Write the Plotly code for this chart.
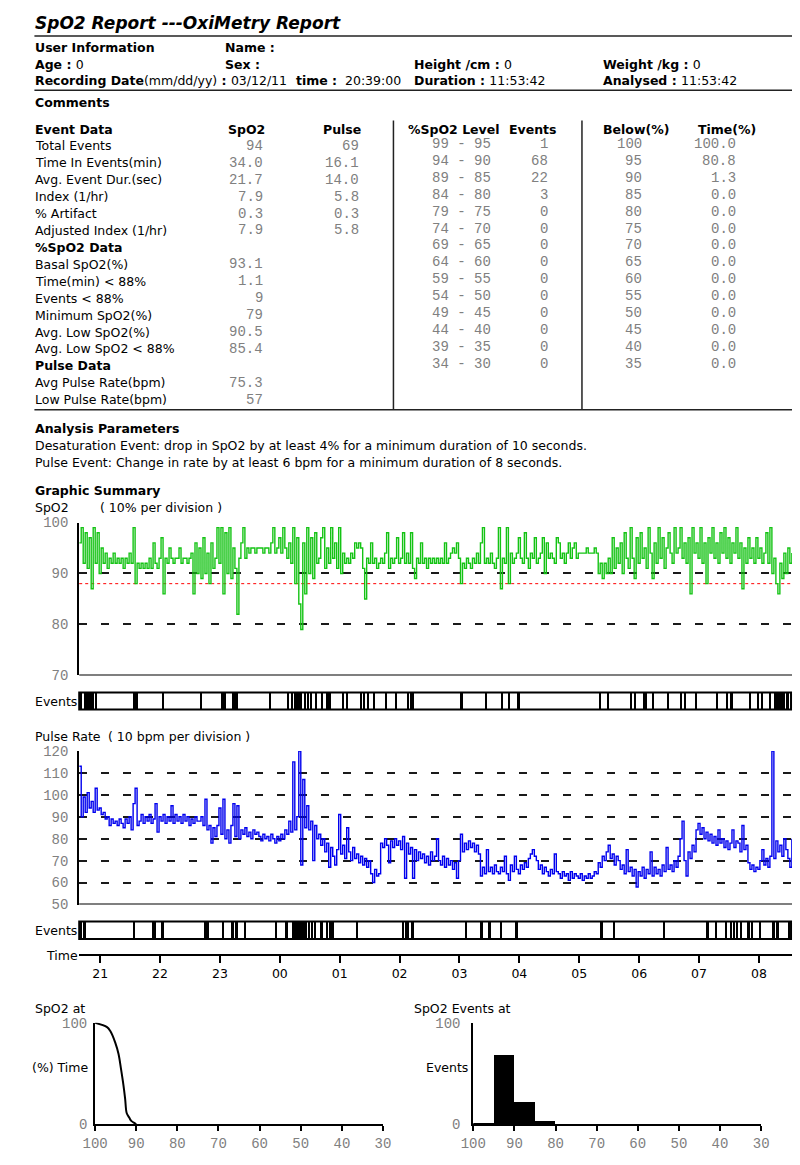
import pandas as pd
import plotly.graph_objects as go

W, H = 800, 1165
SANS = "DejaVu Sans"
MONO = "Liberation Mono"
GRAY = "#808080"
START = pd.Timestamp("2011-03-12 20:39:00")
PX_PER_HOUR = 61.5
AXIS_LEFT = 68

# ---- report header ----
title = "SpO2 Report ---OxiMetry Report"
rec_date = "03/12/11"
rec_time = "20:39:00"
duration = "11:53:42"
analysed = "11:53:42"

# ---- event data table ----
event_labels = ["Total Events", "Time In Events(min)", "Avg. Event Dur.(sec)",
                "Index (1/hr)", "% Artifact", "Adjusted Index (1/hr)"]
event_spo2 = ["94", "34.0", "21.7", "7.9", "0.3", "7.9"]
event_pulse = ["69", "16.1", "14.0", "5.8", "0.3", "5.8"]
spo2_labels = ["Basal SpO2(%)", "Time(min) < 88%", "Events < 88%", "Minimum SpO2(%)",
               "Avg. Low SpO2(%)", "Avg. Low SpO2 < 88%"]
spo2_stats = ["93.1", "1.1", "9", "79", "90.5", "85.4"]
pulse_labels = ["Avg Pulse Rate(bpm)", "Low Pulse Rate(bpm)"]
pulse_stats = ["75.3", "57"]

level_hi = [99, 94, 89, 84, 79, 74, 69, 64, 59, 54, 49, 44, 39, 34]
level_lo = [95, 90, 85, 80, 75, 70, 65, 60, 55, 50, 45, 40, 35, 30]
level_events = [1, 68, 22, 3, 0, 0, 0, 0, 0, 0, 0, 0, 0, 0]
below_level = [100, 95, 90, 85, 80, 75, 70, 65, 60, 55, 50, 45, 40, 35]
below_time = ["100.0", "80.8", "1.3", "0.0", "0.0", "0.0", "0.0", "0.0", "0.0", "0.0",
              "0.0", "0.0", "0.0", "0.0"]

# ---- overnight traces, one reading every 2 minutes from 20:39 (one row per hour) ----
spo2 = [
    96, 99, 92, 98, 91, 97, 87, 99, 92, 98, 90, 95, 92, 94, 91, 93, 92, 94, 92, 93, 92, 93, 91, 93, 92, 94, 92, 99, 88, 92,
    91, 92, 91, 92, 91, 93, 91, 96, 92, 91, 93, 97, 86, 93, 92, 95, 93, 92, 93, 93, 95, 92, 93, 93, 92, 93, 94, 86, 96, 90,
    95, 89, 97, 90, 94, 88, 96, 91, 93, 99, 92, 99, 86, 98, 90, 99, 89, 95, 91, 82, 93, 96, 99, 93, 95, 94, 95, 95, 94, 95,
    95, 95, 94, 95, 95, 94, 96, 99, 94, 95, 97, 94, 99, 95, 93, 96, 92, 99, 88, 97, 84, 79, 96, 86, 99, 90, 97, 89, 98, 92,
    93, 97, 99, 91, 95, 92, 99, 93, 96, 91, 99, 90, 94, 92, 93, 92, 94, 93, 96, 95, 96, 95, 91, 85, 93, 92, 96, 92, 93, 91,
    92, 93, 92, 94, 98, 91, 93, 92, 93, 97, 92, 93, 98, 92, 94, 92, 98, 91, 89, 93, 92, 96, 92, 93, 91, 93, 92, 93, 92, 93,
    92, 93, 92, 96, 92, 93, 94, 95, 94, 96, 93, 88, 92, 91, 93, 92, 91, 93, 92, 94, 92, 96, 99, 92, 93, 92, 94, 92, 91, 93,
    99, 87, 93, 92, 99, 88, 94, 92, 93, 94, 97, 93, 92, 98, 93, 91, 94, 93, 97, 92, 93, 94, 97, 90, 96, 93, 94, 93, 92, 97,
    96, 93, 94, 92, 94, 96, 93, 95, 96, 93, 94, 94, 94, 94, 95, 94, 94, 94, 95, 94, 90, 92, 89, 92, 90, 93, 90, 97, 91, 95,
    92, 96, 90, 98, 93, 91, 99, 93, 89, 97, 92, 98, 93, 95, 91, 99, 94, 89, 96, 92, 99, 93, 97, 91, 95, 98, 94, 92, 99, 94,
    95, 99, 93, 96, 92, 97, 86, 99, 94, 96, 93, 99, 92, 96, 88, 97, 94, 99, 93, 96, 92, 98, 94, 99, 93, 97, 92, 96, 94, 99,
    93, 96, 87, 95, 92, 97, 93, 95, 92, 97, 93, 95, 92, 94, 98, 92, 99, 90, 93, 88, 86, 92, 89, 94, 90, 95, 92, 94,
]
pulse = [
    113, 90, 99, 92, 101, 94, 97, 92, 103, 93, 94, 91, 92, 89, 90, 86, 89, 87, 88, 86, 89, 87, 85, 89, 87, 90, 84, 96, 103, 86,
    88, 91, 87, 90, 88, 91, 87, 89, 96, 83, 90, 88, 91, 87, 90, 88, 95, 87, 91, 88, 90, 87, 91, 88, 90, 86, 89, 87, 90, 88,
    88, 90, 86, 98, 84, 86, 78, 85, 81, 86, 94, 82, 98, 80, 84, 78, 86, 96, 81, 95, 80, 84, 82, 85, 81, 83, 80, 84, 82, 83,
    81, 79, 82, 80, 81, 79, 82, 80, 78, 81, 79, 82, 80, 84, 82, 88, 83, 115, 84, 90, 120, 68, 107, 85, 95, 84, 88, 70, 86, 80,
    82, 77, 80, 74, 78, 67, 76, 72, 68, 75, 91, 73, 77, 71, 85, 74, 70, 76, 71, 73, 69, 72, 68, 71, 67, 70, 64, 60, 66, 63,
    64, 78, 76, 80, 77, 69, 79, 76, 80, 77, 79, 75, 81, 62, 78, 73, 76, 62, 75, 70, 74, 71, 73, 69, 72, 68, 74, 70, 72, 80,
    70, 68, 72, 67, 71, 68, 70, 66, 69, 62, 70, 82, 74, 78, 75, 79, 76, 78, 74, 77, 73, 63, 67, 64, 75, 65, 67, 64, 68, 65,
    64, 67, 65, 72, 64, 61, 68, 65, 72, 66, 64, 68, 66, 69, 67, 71, 73, 75, 72, 70, 66, 68, 64, 67, 65, 63, 66, 64, 73, 65,
    64, 62, 65, 63, 64, 61, 65, 62, 64, 63, 62, 64, 61, 63, 62, 64, 62, 63, 65, 64, 69, 67, 72, 70, 74, 77, 71, 73, 68, 72,
    70, 66, 68, 64, 75, 65, 67, 63, 66, 58, 65, 63, 67, 62, 66, 64, 74, 63, 67, 64, 66, 63, 68, 65, 76, 66, 68, 65, 70, 67,
    72, 80, 88, 70, 63, 74, 71, 77, 74, 84, 87, 82, 85, 80, 83, 79, 82, 78, 81, 77, 84, 78, 80, 76, 79, 75, 78, 84, 76, 79,
    78, 74, 86, 75, 77, 69, 66, 68, 65, 67, 66, 70, 75, 68, 71, 67, 72, 120, 71, 79, 74, 77, 72, 80, 75, 71, 67, 80,
]

# event markers: start / end in minutes after 20:39
spo2_ev_start = [1.3, 5.2, 17.0, 54.0, 83.3, 121.6, 142.4, 153.2, 190.6, 208.5, 212.7, 215.3, 225.7,
                 229.0, 232.2, 236.8, 242.6, 247.5, 263.7, 268.0, 281.6, 284.9, 288.8, 294.6, 307.0,
                 317.4, 328.8, 332.0, 382.4, 406.5, 422.5, 429.6, 439.3, 520.7, 528.8, 552.2, 556.4,
                 564.6, 574.3, 590.0, 603.0, 606.2, 617.3, 638.7, 648.5, 652.5, 671.2, 680.0, 683.5,
                 691.4, 696.3, 709.3]
spo2_ev_end = [3.2, 15.5, 18.2, 59.5, 84.6, 122.9, 147.6, 159.7, 192.2, 210.7, 214.0, 223.7, 227.0,
               230.5, 233.5, 238.3, 244.6, 252.4, 265.4, 269.3, 283.6, 286.5, 290.0, 295.9, 308.3,
               318.7, 330.4, 335.3, 384.3, 409.0, 424.7, 431.6, 441.7, 523.0, 531.4, 554.1, 557.4,
               569.5, 575.9, 591.5, 604.5, 607.8, 619.2, 640.7, 649.8, 655.6, 673.5, 681.5, 685.0,
               693.0, 707.6, 711.0]
pulse_ev_start = [1.3, 4.2, 54.6, 73.5, 82.6, 124.9, 128.1, 143.4, 152.2, 155.8, 165.2, 196.4, 206.8,
                  213.3, 229.6, 232.9, 236.1, 241.0, 247.5, 250.7, 278.3, 323.9, 327.1, 333.0, 386.3,
                  402.0, 410.0, 422.1, 437.0, 522.3, 534.6, 585.0, 628.6, 637.0, 647.5, 652.4, 655.6,
                  658.9, 662.1, 669.3, 673.5, 681.6, 694.6, 698.5, 710.9]
pulse_ev_end = [2.6, 6.8, 56.6, 76.8, 85.2, 127.5, 130.0, 145.4, 154.8, 159.0, 167.8, 198.7, 209.4,
                228.0, 231.2, 234.5, 237.7, 244.2, 249.1, 255.6, 280.0, 325.5, 331.0, 335.3, 389.0,
                404.6, 412.4, 424.1, 439.7, 524.6, 536.9, 587.3, 631.2, 639.3, 649.1, 654.0, 657.2,
                660.5, 664.7, 671.9, 675.1, 683.2, 697.3, 701.2, 712.5]

# cumulative time below each SpO2 level (curve)
cum_level = [100, 97.1, 96.3, 95.1, 94.3, 93.7, 93.1, 92.7, 92.3, 91.7, 91.2, 90.4, 90.0]
cum_time = [100, 95.8, 91.9, 80.5, 69.2, 54.5, 38.3, 25.3, 10.7, 6.5, 3.2, 1.0, 0]

axis_ticks = [100, 90, 80, 70, 60, 50, 40, 30]


def px(x):
    return min(max(x / W, 0), 1)


def py(y):
    return 1 - y / H


# time shown at the right edge of the page
view_end = START + pd.Timedelta(hours=(W - AXIS_LEFT) / PX_PER_HOUR)

annotations = []
shapes = []


def text(x, y, s, size=12.5, anchor="left", family=SANS, color="black"):
    annotations.append(dict(x=px(x), y=py(y), xref="paper", yref="paper", text=s,
                            showarrow=False, xanchor=anchor, yanchor="middle",
                            font=dict(family=family, size=size, color=color)))


def num(x, y, s):
    text(x, y, s, size=14, anchor="right", family=MONO, color=GRAY)


def line(x0, y0, x1, y1, width=1.5, color="#222"):
    shapes.append(dict(type="line", xref="paper", yref="paper", x0=px(x0), y0=py(y0),
                       x1=px(x1), y1=py(y1), line=dict(color=color, width=width)))


# header block
text(21, 16.5, f"<b><i>{title}</i></b>", size=17)
line(22, 29.5, 800, 29.5)
text(21, 40.7, "<b>User Information</b>")
text(216, 40.7, "<b>Name :</b>")
text(21, 58.3, "<b>Age : </b>0")
text(216, 58.3, "<b>Sex :</b>")
text(410, 58.3, "<b>Height /cm : </b>0")
text(604, 58.3, "<b>Weight /kg : </b>0")
text(21, 75, f"<b>Recording Date</b>(mm/dd/yy)<b> : </b>{rec_date}")
text(289, 75, "<b>time :</b>")
text(339, 75, rec_time)
text(410, 75, f"<b>Duration : </b>{duration}")
text(604, 75, f"<b>Analysed : </b>{analysed}")
line(22, 84.3, 800, 84.3)
text(21, 96.7, "<b>Comments</b>")

# table
ROW0, ROWH = 140.7, 17.17
text(21, 124, "<b>Event Data</b>")
text(240, 124, "<b>SpO2</b>", anchor="center")
text(338, 124, "<b>Pulse</b>", anchor="center")
text(404, 124, "<b>%SpO2 Level</b>")
text(507, 124, "<b>Events</b>")
text(604, 124, "<b>Below(%)</b>")
text(701, 124, "<b>Time(%)</b>")

row = 0
for lab, a, b in zip(event_labels, event_spo2, event_pulse):
    y = ROW0 + ROWH * row
    text(21, y, lab)
    num(259, y, a)
    num(357, y, b)
    row += 1
text(21, ROW0 + ROWH * row, "<b>%SpO2 Data</b>")
row += 1
for lab, a in zip(spo2_labels, spo2_stats):
    y = ROW0 + ROWH * row
    text(21, y, lab)
    num(259, y, a)
    row += 1
text(21, ROW0 + ROWH * row, "<b>Pulse Data</b>")
row += 1
for lab, a in zip(pulse_labels, pulse_stats):
    y = ROW0 + ROWH * row
    text(21, y, lab)
    num(259, y, a)
    row += 1

for i in range(len(level_hi)):
    y = ROW0 - 1.5 + 17.1 * i
    text(428, y, f"{level_hi[i]} - {level_lo[i]}", size=14, family=MONO, color=GRAY)
    num(551, y, str(level_events[i]))
    num(648, y, str(below_level[i]))
    num(745, y, below_time[i])

line(390.7, 115, 390.7, 408.3)
line(584.3, 115, 584.3, 408.3)
line(22, 408.3, 800, 408.3)

text(21, 427.3, "<b>Analysis Parameters</b>")
text(21, 445, "Desaturation Event: drop in SpO2 by at least 4% for a minimum duration of 10 seconds.")
text(21, 462.3, "Pulse Event: Change in rate by at least 6 bpm for a minimum duration of 8 seconds.")

text(21, 490, "<b>Graphic Summary</b>")
text(21, 507.3, "SpO2")
text(87, 507.3, "( 10% per division )")
text(21, 704.5, "Events")
text(21, 739.3, "Pulse Rate")
text(96, 739.3, "( 10 bpm per division )")
text(21, 936.3, "Events")
text(32, 962, "Time")

text(21, 1015, "SpO2 at")
text(80, 1075, "(%) Time", anchor="right")
text(410, 1015, "SpO2 Events at")
text(469, 1075, "Events", anchor="right")

# event strip frames
for top, bot in [(695, 712.3), (927.3, 945)]:
    shapes.append(dict(type="rect", xref="paper", yref="paper", x0=px(AXIS_LEFT), x1=px(799),
                       y0=py(bot), y1=py(top), line=dict(color="black", width=2)))

# solid baselines and the 88% reference line
shapes.append(dict(type="line", xref="x domain", yref="y", x0=0, x1=1, y0=70, y1=70,
                   line=dict(color="black", width=2)))
shapes.append(dict(type="line", xref="x domain", yref="y3", x0=0, x1=1, y0=50, y1=50,
                   line=dict(color="black", width=2)))
shapes.append(dict(type="line", xref="x domain", yref="y", x0=0, x1=1, y0=88, y1=88,
                   line=dict(color="#ff0000", width=1, dash="dot"), layer="below"))

fig = go.Figure()

spo2_times = pd.date_range(START, periods=len(spo2), freq="2min")
pulse_times = pd.date_range(START, periods=len(pulse), freq="2min")
fig.add_trace(go.Scatter(x=spo2_times, y=spo2, mode="lines", xaxis="x", yaxis="y",
                         line=dict(color="#14c314", width=1.4, shape="hv")))
fig.add_trace(go.Scatter(x=pulse_times, y=pulse, mode="lines", xaxis="x", yaxis="y3",
                         line=dict(color="#0000ee", width=1.4, shape="hv")))


def event_bars(starts, ends, yaxis):
    mids = [START + pd.Timedelta(minutes=(s + e) / 2) for s, e in zip(starts, ends)]
    widths = [(e - s) * 60000 for s, e in zip(starts, ends)]
    fig.add_trace(go.Bar(x=mids, y=[1] * len(mids), width=widths, xaxis="x", yaxis=yaxis,
                         marker=dict(color="black", line=dict(width=0))))


event_bars(spo2_ev_start, spo2_ev_end, "y2")
event_bars(pulse_ev_start, pulse_ev_end, "y4")

fig.add_trace(go.Scatter(x=cum_level, y=cum_time, mode="lines", xaxis="x2", yaxis="y5",
                         line=dict(color="black", width=2, shape="spline"), cliponaxis=False))
bin_mid = [(h + 1 + l) / 2 for h, l in zip(level_hi, level_lo)]
fig.add_trace(go.Bar(x=bin_mid, y=level_events, width=5, xaxis="x3", yaxis="y6",
                     marker=dict(color="black", line=dict(width=0))))

mono_tick = dict(family=MONO, size=14, color=GRAY)
trace_y = dict(anchor="x", showline=True, linecolor="black", linewidth=2, ticks="",
               showgrid=True, gridcolor="#1a1a1a", gridwidth=2, griddash="8px,14px",
               zeroline=False, tickfont=mono_tick, ticklabelstandoff=6)
strip_y = dict(anchor="x", range=[0, 1], visible=False, fixedrange=True)
small_x = dict(range=[100, 30], tickvals=axis_ticks, showline=True, linecolor="black",
               linewidth=2, ticks="outside", ticklen=5, tickwidth=2, tickcolor="black",
               showgrid=False, zeroline=False, tickfont=mono_tick)
small_y = dict(range=[0, 100], tickvals=[0, 100], showline=True, linecolor="black",
               linewidth=2, ticks="", showgrid=False, zeroline=False, tickfont=mono_tick)

fig.update_layout(
    width=W, height=H, margin=dict(l=0, r=0, t=0, b=0),
    paper_bgcolor="white", plot_bgcolor="white", showlegend=False, hovermode=False,
    font=dict(family=SANS, size=12.5, color="black"),
    xaxis=dict(type="date", domain=[px(AXIS_LEFT), 1], range=[START, view_end], anchor="free",
               position=py(961.7), showline=True, linecolor="black", linewidth=2,
               ticks="outside", ticklen=7, tickwidth=2, tickcolor="black",
               tickformat="%H", dtick=3600000, tick0="2011-03-12 21:00:00",
               showgrid=False, zeroline=False, tickfont=dict(family=SANS, size=12.5)),
    yaxis=dict(domain=[py(677.7), py(522.7)], range=[70, 100], tickvals=[70, 80, 90, 100],
               **trace_y),
    yaxis2=dict(domain=[py(712.3), py(695)], **strip_y),
    yaxis3=dict(domain=[py(910), py(754.3)], range=[50, 120],
                tickvals=[50, 60, 70, 80, 90, 100, 110, 120], **trace_y),
    yaxis4=dict(domain=[py(945), py(927.3)], **strip_y),
    xaxis2=dict(domain=[px(84.3), px(380)], anchor="y5", **small_x),
    yaxis5=dict(domain=[py(1132.7), py(1030)], anchor="x2", ticklabelstandoff=3, **small_y),
    xaxis3=dict(domain=[px(472.7), px(768.3)], anchor="y6", **small_x),
    yaxis6=dict(domain=[py(1132.7), py(1030)], anchor="x3", ticklabelstandoff=8, **small_y),
    annotations=annotations,
    shapes=shapes,
    bargap=0,
)

# drop the browser's default body margin so the 800 x 1165 figure fills the window exactly
fig.write_html("out.html", config={"displayModeBar": False},
               post_script="document.body.style.margin='0px';document.body.style.overflow='hidden';")
